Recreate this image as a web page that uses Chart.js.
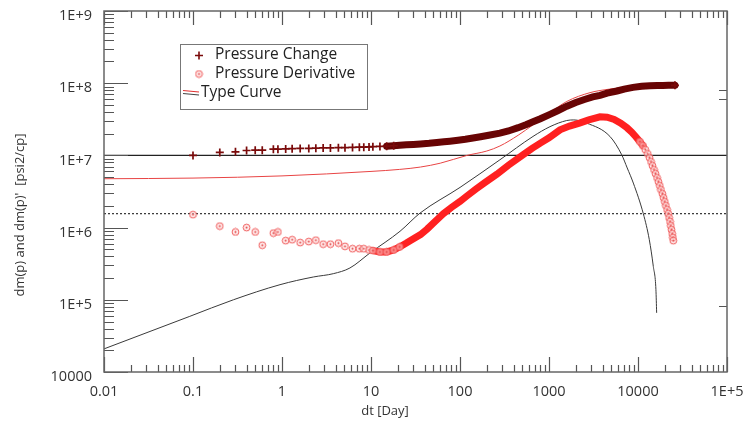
<!DOCTYPE html>
<html>
<head>
<meta charset="utf-8">
<script src="https://cdn.jsdelivr.net/npm/chart.js@4"></script>
<style>
  html, body { margin: 0; padding: 0; background: #ffffff; }
  #wrap { width: 748px; height: 426px; }
</style>
</head>
<body>
<div id="wrap"><canvas id="chart" width="748" height="426"></canvas></div>
<script>
// ============================================================
// DATA
// ============================================================

const xTickValues = [0.01, 0.1, 1, 10, 100, 1000, 10000, 100000];
const xTickLabels = ["0.01", "0.1", "1", "10", "100", "1000", "10000", "1E+5"];
const yTickValues = [1e4, 1e5, 1e6, 1e7, 1e8, 1e9];
const yTickLabels = ["10000", "1E+5", "1E+6", "1E+7", "1E+8", "1E+9"];

// Pressure change (+ markers, merges into a thick band)
const changeTime = [0.1, 0.2, 0.3, 0.4, 0.5, 0.6, 0.8, 0.9, 1.1, 1.3, 1.6, 2.0, 2.4, 2.9, 3.5,
  4.3, 5.1, 6.2, 7.4, 8.3, 9.5, 10.5, 12.6, 15, 18, 21, 25, 30, 36, 45, 55, 66, 77, 95, 115,
  140, 170, 210, 281, 350, 450, 550, 661, 800, 1026, 1250, 1590, 2000, 2500, 3100, 3740, 4500,
  5800, 7000, 8790, 11000, 13600, 16500, 19000, 22000, 26000];
const changeValue = [1.0e7, 1.10e7, 1.12e7, 1.17e7, 1.18e7, 1.18e7, 1.22e7, 1.22e7, 1.23e7, 1.24e7,
  1.25e7, 1.25e7, 1.26e7, 1.27e7, 1.27e7, 1.28e7, 1.28e7, 1.29e7, 1.30e7, 1.30e7, 1.31e7, 1.32e7,
  1.33e7, 1.34e7, 1.36e7, 1.38e7, 1.40e7, 1.42e7, 1.44e7, 1.47e7, 1.51e7, 1.54e7, 1.57e7, 1.62e7,
  1.67e7, 1.74e7, 1.81e7, 1.90e7, 2.03e7, 2.18e7, 2.42e7, 2.66e7, 2.92e7, 3.22e7, 3.7e7, 4.15e7,
  4.8e7, 5.4e7, 5.95e7, 6.45e7, 6.8e7, 7.3e7, 7.8e7, 8.3e7, 8.75e7, 9.05e7, 9.2e7, 9.3e7, 9.3e7,
  9.35e7, 9.35e7];

// Pressure derivative (ring markers)
const derivTime = [0.1, 0.2, 0.3, 0.4, 0.5, 0.6, 0.8, 0.9, 1.1, 1.3, 1.6, 2.0, 2.4, 2.9, 3.5, 4.3,
  5.1, 6.2, 7.4, 8.3, 9.5, 10.5, 12.6, 15, 18, 21, 25, 30, 36, 43, 50, 57, 65, 80, 100, 120, 150,
  190, 260, 350, 500, 640, 800, 1000, 1330, 1700, 2200, 2800, 3740, 4500, 5400, 6400, 7520, 8500,
  9500, 10500, 11380, 12080, 12850, 13470, 14000, 14550, 15130, 15730, 16350, 16960, 17580, 18130,
  18810, 19400, 20010, 20590, 21230, 21840, 22360, 22890, 23370, 23800, 24230, 24670, 24930];
const derivValue = [1.51e6, 1.05e6, 8.7e5, 1.0e6, 8.7e5, 5.7e5, 8.4e5, 8.7e5, 6.6e5, 6.8e5, 6.2e5,
  6.4e5, 6.7e5, 5.9e5, 5.9e5, 6.1e5, 5.5e5, 5.1e5, 5.1e5, 5.1e5, 4.9e5, 4.8e5, 4.6e5, 4.6e5, 4.9e5,
  5.4e5, 6.1e5, 7.0e5, 8.0e5, 9.6e5, 1.15e6, 1.34e6, 1.56e6, 1.9e6, 2.3e6, 2.75e6, 3.4e6, 4.2e6,
  5.5e6, 7.3e6, 1.0e7, 1.24e7, 1.48e7, 1.75e7, 2.26e7, 2.55e7, 2.8e7, 3.1e7, 3.42e7, 3.38e7,
  3.15e7, 2.8e7, 2.41e7, 2.1e7, 1.8e7, 1.55e7, 1.36e7, 1.20e7, 1.05e7, 9.26e6, 8.16e6, 7.18e6,
  6.32e6, 5.57e6, 4.90e6, 4.31e6, 3.80e6, 3.34e6, 2.94e6, 2.59e6, 2.28e6, 2.01e6, 1.77e6, 1.56e6,
  1.37e6, 1.21e6, 1.06e6, 9.35e5, 8.23e5, 7.25e5, 6.59e5];

// Type curve, pressure part (thin red)
const typeRedTime = [0.01, 0.1, 1, 10, 21, 36, 60, 120, 200, 281, 450, 661, 1026, 1590, 2890,
  4840, 8790, 15000, 26000];
const typeRedValue = [4.75e6, 4.85e6, 5.2e6, 6.0e6, 6.4e6, 6.9e6, 7.8e6, 1.0e7, 1.15e7, 1.35e7,
  1.9e7, 2.65e7, 3.9e7, 5.6e7, 7.4e7, 8.3e7, 9.0e7, 9.25e7, 9.35e7];

// Type curve, derivative part (thin black)
const typeBlackTime = [0.01, 0.092, 0.284, 0.95, 2.25, 3.77, 5.8, 9.75, 21.2, 35.6, 100, 281, 661,
  1026, 1580, 1900, 2650, 4840, 6560, 7565, 8860, 11470, 13400, 14860, 15900, 16200];
const typeBlackValue = [2.09e4, 5.9e4, 1.0e5, 1.62e5, 2.07e5, 2.3e5, 2.76e5, 4.46e5, 8.9e5, 1.59e6,
  3.6e6, 8.7e6, 1.83e7, 2.5e7, 3.04e7, 3.1e7, 2.8e7, 1.83e7, 1.02e7, 6.7e6, 4.14e6, 1.56e6, 6.8e5,
  2.9e5, 1.38e5, 6.6e4];

// Horizontal reference lines
const refSolidValue = 1.0e7;
const refDottedValue = 1.56e6;

const legendLabels = ["Pressure Change", "Pressure Derivative", "Type Curve"];
const xTitle = "dt [Day]";
const yTitle = "dm(p) and dm(p)'  [psi2/cp]";

// ============================================================
// HELPERS
// ============================================================

const FONT = "'Open Sans', 'Noto Sans', sans-serif";
const TEXT_COLOR = "#333333";

function toPoints(xs, ys) {
  return xs.map((x, i) => ({ x, y: ys[i] }));
}

function makeRingMarker() {
  const c = document.createElement("canvas");
  c.width = 9;
  c.height = 9;
  const g = c.getContext("2d");
  g.fillStyle = "rgba(255,220,220,0.55)";
  g.strokeStyle = "#ef5b5b";
  g.lineWidth = 1;
  g.beginPath();
  g.arc(4.5, 4.5, 3.4, 0, Math.PI * 2);
  g.fill();
  g.stroke();
  g.fillStyle = "#de4545";
  g.beginPath();
  g.arc(4.5, 4.5, 1, 0, Math.PI * 2);
  g.fill();
  return c;
}

const ringMarker = makeRingMarker();

// ============================================================
// AXES, LABELS AND LEGEND (drawn through the chart's scales)
// ============================================================

const framePlugin = {
  id: "frame",
  afterDatasetsDraw(chart) {
    const { ctx, chartArea: a, scales } = chart;
    const sx = scales.x;
    const sy = scales.y;

    ctx.save();

    // tick marks, all pointing inward
    ctx.strokeStyle = "#555555";
    ctx.lineWidth = 1.2;
    ctx.beginPath();
    for (let e = -2; e <= 5; e++) {
      for (let m = 1; m <= 9; m++) {
        const v = m * Math.pow(10, e);
        if (v > 1.0001e5) break;
        const px = Math.round(sx.getPixelForValue(v)) + 0.5;
        const major = m === 1;
        ctx.moveTo(px, a.bottom);
        ctx.lineTo(px, a.bottom - (major ? 15 : 7));
        ctx.moveTo(px, a.top);
        ctx.lineTo(px, a.top + (major ? 14 : 7));
      }
    }
    for (let e = 4; e <= 9; e++) {
      for (let m = 1; m <= 9; m++) {
        const v = m * Math.pow(10, e);
        if (v > 1.0001e9) break;
        const py = Math.round(sy.getPixelForValue(v)) + 0.5;
        ctx.moveTo(a.left, py);
        ctx.lineTo(a.left + (m === 1 ? 24 : 10), py);
      }
    }
    [8.1e7, 6.0e7, 8.1e4].forEach(v => {
      const py = Math.round(sy.getPixelForValue(v)) + 0.5;
      ctx.moveTo(a.right, py);
      ctx.lineTo(a.right - 8, py);
    });
    ctx.stroke();

    // plot frame
    ctx.strokeStyle = "#666666";
    ctx.lineWidth = 1.5;
    ctx.strokeRect(a.left, a.top, a.right - a.left, a.bottom - a.top);

    // tick labels
    ctx.fillStyle = TEXT_COLOR;
    ctx.font = "14.5px " + FONT;
    ctx.textAlign = "center";
    ctx.textBaseline = "middle";
    xTickValues.forEach((v, i) => {
      ctx.fillText(xTickLabels[i], sx.getPixelForValue(v), a.bottom + 20);
    });
    ctx.textAlign = "right";
    yTickValues.forEach((v, i) => {
      ctx.fillText(yTickLabels[i], a.left - 12, sy.getPixelForValue(v) + 5);
    });

    // axis titles
    ctx.font = "13px " + FONT;
    ctx.textAlign = "center";
    ctx.fillText(xTitle, 385, 411);
    ctx.save();
    ctx.translate(20, 215);
    ctx.rotate(-Math.PI / 2);
    ctx.fillText(yTitle, 0, 0);
    ctx.restore();

    // legend box
    ctx.strokeStyle = "#777777";
    ctx.lineWidth = 1;
    ctx.strokeRect(180.5, 44.5, 187, 65);

    ctx.strokeStyle = "#7a0a0a";
    ctx.lineWidth = 1.6;
    ctx.beginPath();
    ctx.moveTo(195, 55.5);
    ctx.lineTo(203, 55.5);
    ctx.moveTo(199, 51.5);
    ctx.lineTo(199, 59.5);
    ctx.stroke();

    ctx.drawImage(ringMarker, 199 - 4.5, 74 - 4.5);

    ctx.lineWidth = 1.2;
    ctx.strokeStyle = "#e03030";
    ctx.beginPath();
    ctx.moveTo(183, 90.5);
    ctx.lineTo(199, 92);
    ctx.stroke();
    ctx.strokeStyle = "#444444";
    ctx.beginPath();
    ctx.moveTo(183, 93.5);
    ctx.lineTo(199, 95);
    ctx.stroke();

    ctx.fillStyle = "#222222";
    ctx.font = "15.5px " + FONT;
    ctx.textAlign = "left";
    ctx.fillText(legendLabels[0], 215, 55);
    ctx.fillText(legendLabels[1], 215, 74);
    ctx.fillText(legendLabels[2], 201, 93);

    ctx.restore();
  }
};

// ============================================================
// CHART
// ============================================================

const changeBand = "#680404";
const derivBand = "#ff2020";

new Chart(document.getElementById("chart"), {
  type: "scatter",
  data: {
    datasets: [
      {
        label: legendLabels[0],
        data: toPoints(changeTime, changeValue),
        showLine: true,
        borderColor: changeBand,
        borderWidth: 7,
        borderCapStyle: "round",
        segment: {
          borderColor: ctx => (ctx.p0.parsed.x >= 14 ? changeBand : "rgba(0,0,0,0)")
        },
        pointStyle: "cross",
        pointRadius: ctx => (ctx.raw && ctx.raw.x >= 20 && ctx.raw.x < 25000 ? 0 : 4),
        pointBorderWidth: 1.7,
        pointBorderColor: "#7a0a0a",
        pointBackgroundColor: "#7a0a0a"
      },
      {
        label: legendLabels[1],
        data: toPoints(derivTime, derivValue),
        showLine: true,
        borderColor: derivBand,
        borderWidth: 7,
        borderCapStyle: "round",
        segment: {
          borderColor: ctx =>
            (ctx.p0.parsed.x >= 10 && ctx.p1.parsed.x <= 11400 ? derivBand : "rgba(0,0,0,0)")
        },
        pointStyle: ringMarker,
        pointRadius: ctx => (ctx.raw && ctx.raw.x >= 22 && ctx.raw.x <= 10000 ? 0 : 4)
      },
      {
        label: legendLabels[2],
        data: toPoints(typeRedTime, typeRedValue),
        showLine: true,
        borderColor: "#e84444",
        borderWidth: 1,
        pointRadius: 0,
        cubicInterpolationMode: "monotone"
      },
      {
        label: "Type Curve derivative",
        data: toPoints(typeBlackTime, typeBlackValue),
        showLine: true,
        borderColor: "#3a3a3a",
        borderWidth: 1,
        pointRadius: 0,
        cubicInterpolationMode: "monotone"
      },
      {
        label: "ref solid",
        data: [{ x: 0.01, y: refSolidValue }, { x: 1e5, y: refSolidValue }],
        showLine: true,
        borderColor: "#222222",
        borderWidth: 1.2,
        pointRadius: 0
      },
      {
        label: "ref dotted",
        data: [{ x: 0.01, y: refDottedValue }, { x: 1e5, y: refDottedValue }],
        showLine: true,
        borderColor: "#333333",
        borderWidth: 1.2,
        borderDash: [2, 2],
        pointRadius: 0
      }
    ]
  },
  options: {
    responsive: false,
    animation: false,
    events: [],
    layout: {
      padding: { left: 104, right: 21, top: 11, bottom: 54 }
    },
    scales: {
      x: { type: "logarithmic", min: 0.01, max: 1e5, display: false },
      y: { type: "logarithmic", min: 1e4, max: 1e9, display: false }
    },
    plugins: {
      legend: { display: false },
      tooltip: { enabled: false }
    }
  },
  plugins: [framePlugin]
});
</script>
</body>
</html>
